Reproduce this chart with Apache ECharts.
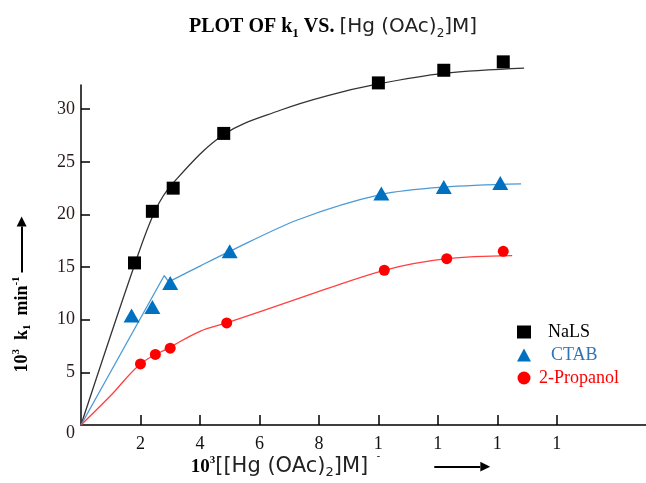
<!DOCTYPE html>
<html>
<head>
<meta charset="utf-8">
<script src="https://cdn.jsdelivr.net/npm/echarts@6/dist/echarts.min.js"></script>
<style>
  html, body { margin: 0; padding: 0; background: #fff; }
  #chart { width: 646px; height: 483px; }
</style>
</head>
<body>
<div id="chart"></div>
<script>
// 数据 - 实测点
const nalsX = [1.8, 2.4, 3.1, 4.8, 10.0, 12.2, 14.2]
const nalsY = [15.4, 20.3, 22.5, 27.7, 32.5, 33.7, 34.5]
const ctabX = [1.7, 2.4, 3.0, 5.0, 10.1, 12.2, 14.1]
const ctabY = [10.4, 11.2, 13.5, 16.5, 22.0, 22.6, 23.0]
const propX = [2.0, 2.5, 3.0, 4.9, 10.2, 12.3, 14.2]
const propY = [5.8, 6.7, 7.3, 9.7, 14.7, 15.8, 16.5]

// 拟合曲线（图中手绘曲线）
const nalsCurve = [[0, 0], [1.8, 15.2], [2.5, 20.4], [3.1, 23.0], [4.8, 27.6], [6.7, 29.9], [8.3, 31.3], [10.0, 32.4], [12.2, 33.4], [14.9, 33.9]]
const ctabStart = [[0, 0], [2.8, 14.2], [2.95, 13.6]]
const ctabCurve = [[2.95, 13.6], [4.0, 15.1], [5.0, 16.5], [7.3, 19.5], [10.1, 21.9], [12.2, 22.6], [14.8, 22.9]]
const propCurve = [[0, 0], [1.0, 2.8], [2.0, 5.8], [3.0, 7.4], [4.0, 8.9], [4.9, 9.7], [7.3, 12.0], [10.2, 14.7], [12.3, 15.8], [14.5, 16.1]]

// 刻度
const xTicks = [2, 4, 6, 8, 10, 12, 14, 16]
const xTickLabels = ['2', '4', '6', '8', '1', '1', '1', '1']
const yTicks = [5, 10, 15, 20, 25, 30]
const yTickLabels = [0, 5, 10, 15, 20, 25, 30]

const serif = 'Liberation Serif'
const sans = 'DejaVu Sans'

const zip = (xs, ys) => xs.map((x, i) => [x, ys[i]])

const arrowRich = {
  shaft: { width: 46, height: 2, backgroundColor: '#000' },
  head: { fontFamily: sans, fontSize: 13, color: '#000', fontWeight: 'normal' }
}

// 曲线公共配置
const curve = (name, data, color, smooth) => ({
  name,
  type: 'line',
  smooth,
  clip: false,
  showSymbol: false,
  silent: true,
  lineStyle: { color, width: 1.3 },
  data,
  z: 1
})

const chart = echarts.init(document.getElementById('chart'), null, { renderer: 'canvas' })
chart.setOption({
  backgroundColor: '#fff',
  animation: false,
  title: {
    left: 184,
    top: 9,
    text: '{tb|PLOT OF k}{tbs|1}{tb| VS. }{ts|[Hg (OAc)}{tss|2}{ts|]M]}',
    textStyle: {
      rich: {
        tb: { fontFamily: serif, fontWeight: 'bold', fontSize: 20, color: '#000', lineHeight: 26 },
        tbs: { fontFamily: serif, fontWeight: 'bold', fontSize: 13, color: '#000', lineHeight: 14, verticalAlign: 'bottom' },
        ts: { fontFamily: sans, fontWeight: 'normal', fontSize: 20, color: '#222', lineHeight: 26 },
        tss: { fontFamily: sans, fontWeight: 'normal', fontSize: 12, color: '#222', lineHeight: 13, verticalAlign: 'bottom' }
      }
    }
  },
  legend: {
    orient: 'vertical',
    left: 512,
    top: 318,
    itemGap: 5,
    itemWidth: 14,
    itemHeight: 13,
    textStyle: { fontFamily: serif, fontSize: 18 },
    data: [
      { name: 'NaLS', icon: 'rect', textStyle: { color: '#000', padding: [0, 0, 0, 12] } },
      { name: 'CTAB', icon: 'triangle', textStyle: { color: '#2e75b6', padding: [0, 0, 0, 15] } },
      { name: '2-Propanol', icon: 'circle', textStyle: { color: '#ff0000', padding: [0, 0, 0, 3] } }
    ]
  },
  grid: {
    left: 81,
    right: 0,
    top: 85,
    bottom: 58,
    outerBoundsMode: 'none'
  },
  xAxis: {
    type: 'value',
    min: 0,
    max: 19,
    name: '{nb|10}{nsup|3}{ns|[[Hg (OAc)}{nsub|2}{ns|]M]}{gap| }{shaft| }{head|▶}',
    nameLocation: 'middle',
    nameGap: 30,
    nameMoveOverlap: false,
    nameTextStyle: {
      padding: [0, 46, 0, 0],
      rich: Object.assign({
        nb: { fontFamily: serif, fontWeight: 'bold', fontSize: 19, color: '#000', lineHeight: 24 },
        nsup: { fontFamily: serif, fontWeight: 'bold', fontSize: 11, color: '#000', lineHeight: 12, verticalAlign: 'top' },
        ns: { fontFamily: sans, fontSize: 21, color: '#222', lineHeight: 24 },
        nsub: { fontFamily: sans, fontSize: 13, color: '#222', lineHeight: 12, verticalAlign: 'bottom' },
        gap: { width: 66 }
      }, arrowRich)
    },
    axisLine: { show: true, onZero: false, lineStyle: { color: '#000', width: 1.5 } },
    axisTick: { show: true, inside: true, length: 10, customValues: xTicks, lineStyle: { color: '#000', width: 1.5 } },
    axisLabel: {
      customValues: xTicks,
      margin: 10,
      fontFamily: serif,
      fontSize: 18,
      color: '#111',
      formatter: v => {
        const s = xTickLabels[xTicks.indexOf(v)]
        return v === 10 ? s + '\n{d|-}' : s
      },
      rich: { d: { fontFamily: serif, fontSize: 10, lineHeight: 6, color: '#000' } }
    },
    splitLine: { show: false }
  },
  yAxis: {
    type: 'value',
    min: 0,
    max: 32.3,
    name: '{b|10}{sup|3}{b|  k}{sub|1}{b|  min}{sup|-1}{gap| }{shaft| }{head|▶}',
    nameLocation: 'middle',
    nameRotate: 90,
    nameGap: 48,
    nameMoveOverlap: false,
    nameTextStyle: {
      padding: [0, 79, 0, 0],
      rich: Object.assign({
        b: { fontFamily: serif, fontWeight: 'bold', fontSize: 18, color: '#000', lineHeight: 22 },
        sup: { fontFamily: serif, fontWeight: 'bold', fontSize: 11, color: '#000', lineHeight: 12, verticalAlign: 'top' },
        sub: { fontFamily: serif, fontWeight: 'bold', fontSize: 11, color: '#000', lineHeight: 12, verticalAlign: 'bottom' },
        gap: { width: 4 }
      }, arrowRich)
    },
    axisLine: { show: true, onZero: false, lineStyle: { color: '#000', width: 1.5 } },
    axisTick: { show: true, inside: true, length: 9, customValues: yTicks, lineStyle: { color: '#000', width: 1.5 } },
    axisLabel: {
      customValues: yTickLabels,
      margin: 6,
      fontFamily: serif,
      fontSize: 18,
      color: '#2a1a1a',
      formatter: v => v === 0 ? '{z|0}' : String(v),
      rich: { z: { fontFamily: serif, fontSize: 18, color: '#2a1a1a', padding: [16, 0, 0, 0] } }
    },
    splitLine: { show: false }
  },
  series: [
    // 曲线
    curve('NaLS-fit', nalsCurve, '#333', 0.35),
    curve('CTAB-start', ctabStart, '#4a9ad6', false),
    curve('CTAB-fit', ctabCurve, '#4a9ad6', 0.3),
    curve('2-Propanol-fit', propCurve, '#ff4040', 0.35),
    // 实测点
    {
      name: 'NaLS',
      type: 'scatter',
      symbol: 'rect',
      symbolSize: 13,
      clip: false,
      itemStyle: { color: '#000', opacity: 1 },
      data: zip(nalsX, nalsY),
      z: 3
    },
    {
      name: 'CTAB',
      type: 'scatter',
      symbol: 'triangle',
      symbolSize: [16, 14],
      clip: false,
      itemStyle: { color: '#0070c0', opacity: 1 },
      data: zip(ctabX, ctabY),
      z: 3
    },
    {
      name: '2-Propanol',
      type: 'scatter',
      symbol: 'circle',
      symbolSize: 11,
      clip: false,
      itemStyle: { color: '#ff0000', opacity: 1 },
      data: zip(propX, propY),
      z: 3
    }
  ]
})
</script>
</body>
</html>
